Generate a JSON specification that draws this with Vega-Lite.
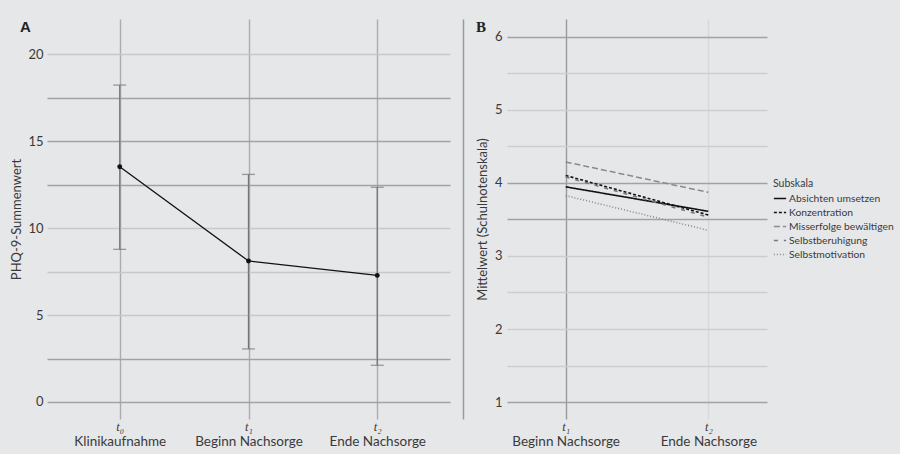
{
  "$schema": "https://vega.github.io/schema/vega-lite/v6.json",
  "background": "#e6e7e9",
  "padding": {"left": 10, "top": 19, "right": 6, "bottom": 8},
  "spacing": 13,
  "resolve": {"scale": {"color": "independent", "strokeDash": "independent", "strokeWidth": "independent"}, "legend": {"color": "independent", "strokeDash": "independent", "strokeWidth": "independent"}},
  "config": {
    "font": "Lato",
    "view": {"stroke": null},
    "axis": {"labelFont": "Lato", "titleFont": "Lato", "labelColor": "#3a3a3a", "titleColor": "#3a3a3a", "titleFontWeight": "normal", "domain": false, "ticks": false, "gridWidth": 1.4},
    "title": {"font": "Liberation Sans", "fontWeight": "bold", "fontSize": 15, "color": "#222222"}
  },
  "hconcat": [
    {
      "width": 403,
      "height": 400,
      "title": {"text": "A", "anchor": "start", "frame": "group", "dx": -27, "dy": 16, "offset": 0, "baseline": "top"},
      "data": {"values": [
        {"t": "t₀", "name": "Klinikaufnahme", "mean": 13.53, "lo": 8.78, "hi": 18.23},
        {"t": "t₁", "name": "Beginn Nachsorge", "mean": 8.11, "lo": 3.05, "hi": 13.09},
        {"t": "t₂", "name": "Ende Nachsorge", "mean": 7.28, "lo": 2.11, "hi": 12.35}
      ]},
      "resolve": {"scale": {"x": "independent"}, "axis": {"x": "independent", "y": "independent"}},
      "layer": [
        {
          "mark": {"type": "rule", "color": "#767676", "strokeWidth": 1.3},
          "encoding": {
            "x": {"field": "t", "type": "nominal", "sort": null, "scale": {"type": "point", "padding": 0.565},
              "axis": {"orient": "bottom", "title": null, "labelAngle": 0, "labelFont": "Liberation Serif", "labelFontStyle": "italic", "labelFontSize": 12.5, "labelPadding": 1, "grid": true, "gridColor": "#acacac"}},
            "y": {"field": "lo", "type": "quantitative", "scale": {"domain": [-0.98, 22.03], "nice": false, "zero": false},
              "axis": {"orient": "left", "title": "PHQ-9-Summenwert", "values": [0, 2.5, 5, 7.5, 10, 12.5, 15, 17.5, 20], "labelExpr": "datum.value % 5 === 0 ? datum.label : ''", "labelFontSize": 13, "titleFontSize": 13, "labelPadding": 4, "titlePadding": 4, "grid": true,
                "gridColor": {"condition": {"test": "indexof([0, 2.5, 12.5, 15, 17.5], datum.value) >= 0", "value": "#a2a2a2"}, "value": "#c8c8c8"}}},
            "y2": {"field": "hi"}
          }
        },
        {
          "mark": {"type": "tick", "color": "#767676", "size": 13, "thickness": 1.3},
          "encoding": {
            "x": {"field": "t", "type": "nominal", "sort": null, "scale": {"type": "point", "padding": 0.565}, "axis": null},
            "y": {"field": "lo", "type": "quantitative", "scale": {"domain": [-0.98, 22.03], "nice": false, "zero": false}, "axis": null}
          }
        },
        {
          "mark": {"type": "tick", "color": "#767676", "size": 13, "thickness": 1.3},
          "encoding": {
            "x": {"field": "t", "type": "nominal", "sort": null, "scale": {"type": "point", "padding": 0.565}, "axis": null},
            "y": {"field": "hi", "type": "quantitative", "scale": {"domain": [-0.98, 22.03], "nice": false, "zero": false}, "axis": null}
          }
        },
        {
          "mark": {"type": "line", "color": "#111111", "strokeWidth": 1.3},
          "encoding": {
            "x": {"field": "t", "type": "nominal", "sort": null, "scale": {"type": "point", "padding": 0.565}, "axis": null},
            "y": {"field": "mean", "type": "quantitative", "scale": {"domain": [-0.98, 22.03], "nice": false, "zero": false}, "axis": null}
          }
        },
        {
          "mark": {"type": "point", "filled": true, "color": "#111111", "size": 24, "opacity": 1},
          "encoding": {
            "x": {"field": "t", "type": "nominal", "sort": null, "scale": {"type": "point", "padding": 0.565}, "axis": null},
            "y": {"field": "mean", "type": "quantitative", "scale": {"domain": [-0.98, 22.03], "nice": false, "zero": false}, "axis": null}
          }
        },
        {
          "mark": {"type": "point", "opacity": 0},
          "encoding": {
            "x": {"field": "name", "type": "nominal", "sort": null, "scale": {"type": "point", "padding": 0.565},
              "axis": {"orient": "bottom", "title": null, "labelAngle": 0, "labelFontSize": 13.5, "labelPadding": 2, "offset": 13, "grid": false}},
            "y": {"field": "mean", "type": "quantitative", "scale": {"domain": [-0.98, 22.03], "nice": false, "zero": false},
              "axis": {"orient": "right", "title": null, "labels": false, "grid": false, "domain": true, "domainColor": "#9a9a9a", "domainWidth": 1.5, "offset": 13}}
          }
        }
      ]
    },
    {
      "width": 260,
      "height": 400,
      "title": {"text": "B", "anchor": "start", "frame": "group", "dx": -31, "dy": 16, "offset": 0, "baseline": "top", "font": "Liberation Serif"},
      "data": {"values": [
        {"t": "t₁", "name": "Beginn Nachsorge", "Subskala": "Absichten umsetzen", "value": 3.945},
        {"t": "t₂", "name": "Ende Nachsorge", "Subskala": "Absichten umsetzen", "value": 3.61},
        {"t": "t₁", "name": "Beginn Nachsorge", "Subskala": "Konzentration", "value": 4.1},
        {"t": "t₂", "name": "Ende Nachsorge", "Subskala": "Konzentration", "value": 3.56},
        {"t": "t₁", "name": "Beginn Nachsorge", "Subskala": "Misserfolge bewältigen", "value": 4.285},
        {"t": "t₂", "name": "Ende Nachsorge", "Subskala": "Misserfolge bewältigen", "value": 3.87},
        {"t": "t₁", "name": "Beginn Nachsorge", "Subskala": "Selbstberuhigung", "value": 4.08},
        {"t": "t₂", "name": "Ende Nachsorge", "Subskala": "Selbstberuhigung", "value": 3.53},
        {"t": "t₁", "name": "Beginn Nachsorge", "Subskala": "Selbstmotivation", "value": 3.825},
        {"t": "t₂", "name": "Ende Nachsorge", "Subskala": "Selbstmotivation", "value": 3.35}
      ]},
      "resolve": {"scale": {"x": "independent"}, "axis": {"x": "independent", "y": "independent"}},
      "layer": [
        {
          "mark": {"type": "line"},
          "encoding": {
            "x": {"field": "t", "type": "nominal", "sort": null, "scale": {"type": "point", "padding": 0.411},
              "axis": {"orient": "bottom", "title": null, "labelAngle": 0, "labelFont": "Liberation Serif", "labelFontStyle": "italic", "labelFontSize": 12.5, "labelPadding": 1, "grid": true,
                "gridColor": {"condition": {"test": "datum.value === 't₂'", "value": "#d8d8d8"}, "value": "#9a9a9a"}}},
            "y": {"field": "value", "type": "quantitative", "scale": {"domain": [0.77, 6.24], "nice": false, "zero": false},
              "axis": {"orient": "left", "title": "Mittelwert (Schulnotenskala)", "values": [1, 1.5, 2, 2.5, 3, 3.5, 4, 4.5, 5, 5.5, 6], "labelExpr": "datum.value % 1 === 0 ? format(datum.value, 'd') : ''", "labelFontSize": 13, "titleFontSize": 13, "labelPadding": 5, "titlePadding": 5, "grid": true,
                "gridColor": {"condition": {"test": "indexof([1, 3.5, 4, 6], datum.value) >= 0", "value": "#a2a2a2"}, "value": "#cdcdcd"}}},
            "color": {"field": "Subskala", "type": "nominal", "scale": {"range": ["#111111", "#111111", "#8a8a8a", "#777777", "#8a8a8a"]},
              "legend": {"title": "Subskala", "orient": "none", "legendX": 266, "legendY": 160, "direction": "vertical", "padding": 0, "titleFontSize": 10.5, "titleFontWeight": "normal", "titleColor": "#3a3a3a", "titlePadding": 2, "labelFontSize": 10.3, "labelColor": "#3a3a3a", "labelOffset": 2, "symbolType": "stroke", "symbolSize": 150, "rowPadding": 1}},
            "strokeDash": {"field": "Subskala", "type": "nominal", "scale": {"range": [[1, 0], [3, 2], [6, 3], [4, 6], [1, 2]]}, "legend": {"title": "Subskala"}},
            "strokeWidth": {"field": "Subskala", "type": "nominal", "scale": {"range": [1.6, 1.6, 1.2, 1.2, 1]}, "legend": {"title": "Subskala"}}
          }
        },
        {
          "mark": {"type": "point", "opacity": 0},
          "encoding": {
            "x": {"field": "name", "type": "nominal", "sort": null, "scale": {"type": "point", "padding": 0.411},
              "axis": {"orient": "bottom", "title": null, "labelAngle": 0, "labelFontSize": 13.5, "labelPadding": 2, "offset": 13, "grid": false}},
            "y": {"field": "value", "type": "quantitative", "scale": {"domain": [0.77, 6.24], "nice": false, "zero": false}, "axis": null}
          }
        }
      ]
    }
  ]
}
